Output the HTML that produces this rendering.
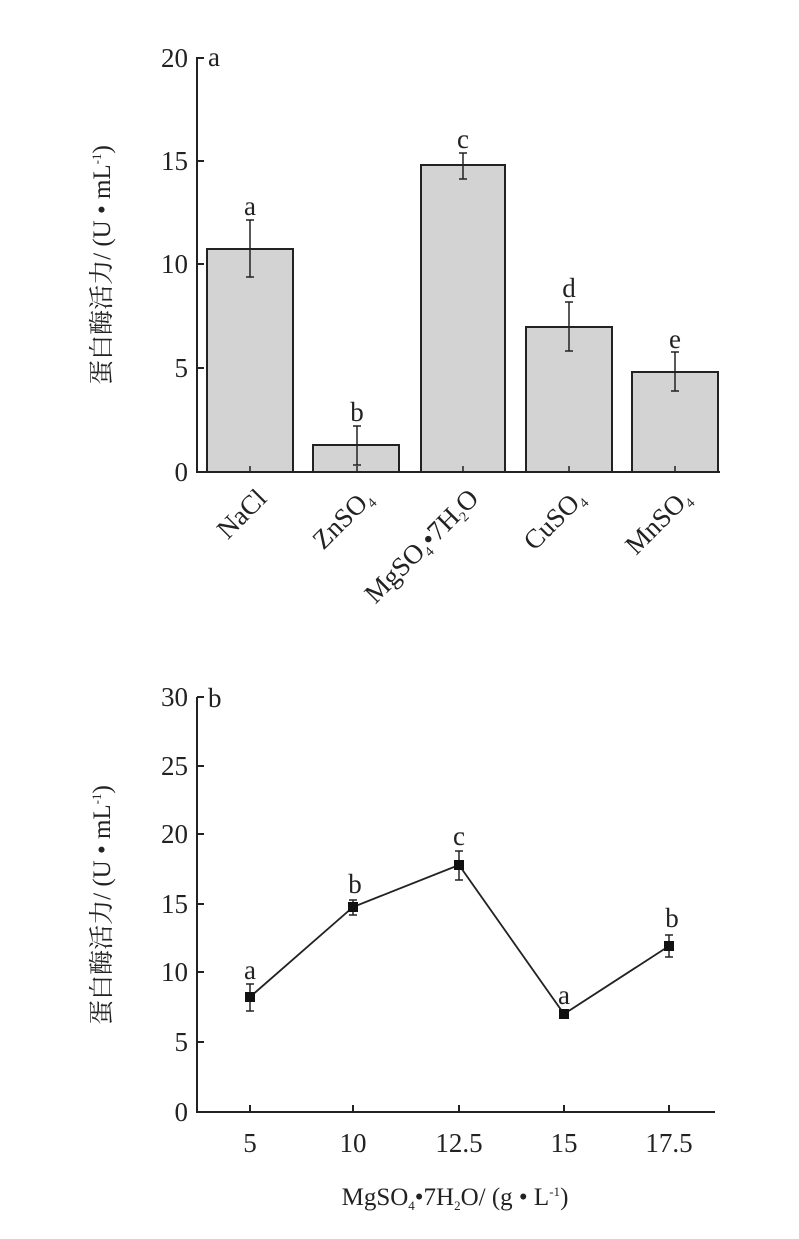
<!DOCTYPE html>
<html><head><meta charset="utf-8"><style>
html,body{margin:0;padding:0;background:#fff;}
svg{display:block;font-family:"Liberation Serif","Noto Serif CJK SC",serif;}
</style></head><body>
<svg width="799" height="1239" viewBox="0 0 799 1239" xmlns="http://www.w3.org/2000/svg">
<g stroke="#222" stroke-width="2" fill="none">
<line x1="197" y1="57" x2="197" y2="472"/>
<line x1="196" y1="472" x2="720" y2="472"/>
<line x1="197" y1="58" x2="204" y2="58"/>
<line x1="197" y1="161" x2="204" y2="161"/>
<line x1="197" y1="264" x2="204" y2="264"/>
<line x1="197" y1="368" x2="204" y2="368"/>
</g>
<g fill="#d3d3d3" stroke="#222" stroke-width="2">
<rect x="207" y="249" width="86" height="223"/>
<rect x="313" y="445" width="86" height="27"/>
<rect x="421" y="165" width="84" height="307"/>
<rect x="526" y="327" width="86" height="145"/>
<rect x="632" y="372" width="86" height="100"/>
</g>
<g stroke="#222" stroke-width="1.5">
<line x1="250" y1="220" x2="250" y2="277"/><line x1="246" y1="220" x2="254" y2="220"/><line x1="246" y1="277" x2="254" y2="277"/>
<line x1="357" y1="426" x2="357" y2="465"/><line x1="353" y1="426" x2="361" y2="426"/><line x1="353" y1="465" x2="361" y2="465"/>
<line x1="463" y1="153" x2="463" y2="179"/><line x1="459" y1="153" x2="467" y2="153"/><line x1="459" y1="179" x2="467" y2="179"/>
<line x1="569" y1="302" x2="569" y2="351"/><line x1="565" y1="302" x2="573" y2="302"/><line x1="565" y1="351" x2="573" y2="351"/>
<line x1="675" y1="352" x2="675" y2="391"/><line x1="671" y1="352" x2="679" y2="352"/><line x1="671" y1="391" x2="679" y2="391"/>
<line x1="250" y1="466" x2="250" y2="472"/><line x1="357" y1="466" x2="357" y2="472"/><line x1="463" y1="466" x2="463" y2="472"/><line x1="569" y1="466" x2="569" y2="472"/><line x1="675" y1="466" x2="675" y2="472"/>
</g>
<g font-size="27" fill="#222">
<text x="208" y="66">a</text>
<text x="188" y="67" text-anchor="end">20</text>
<text x="188" y="170" text-anchor="end">15</text>
<text x="188" y="273" text-anchor="end">10</text>
<text x="188" y="377" text-anchor="end">5</text>
<text x="188" y="481" text-anchor="end">0</text>
<text x="250" y="215" text-anchor="middle">a</text>
<text x="357" y="421" text-anchor="middle">b</text>
<text x="463" y="148" text-anchor="middle">c</text>
<text x="569" y="297" text-anchor="middle">d</text>
<text x="675" y="348" text-anchor="middle">e</text>
<text transform="translate(268,500) rotate(-45)" text-anchor="end">NaCl</text>
<text transform="translate(374,500) rotate(-45)" text-anchor="end">ZnSO<tspan font-size="14" dy="5">4</tspan></text>
<text transform="translate(480,500) rotate(-45)" text-anchor="end">MgSO<tspan font-size="14" dy="5">4</tspan><tspan dy="-5">•7H</tspan><tspan font-size="14" dy="5">2</tspan><tspan dy="-5">O</tspan></text>
<text transform="translate(586,500) rotate(-45)" text-anchor="end">CuSO<tspan font-size="14" dy="5">4</tspan></text>
<text transform="translate(692,500) rotate(-45)" text-anchor="end">MnSO<tspan font-size="14" dy="5">4</tspan></text>
<text transform="translate(110,265) rotate(-90)" text-anchor="middle" font-size="25">蛋白酶活力/ (U • mL<tspan font-size="13" dy="-9">-1</tspan><tspan dy="9">)</tspan></text>
</g>
<g stroke="#222" stroke-width="2" fill="none">
<line x1="197" y1="697" x2="197" y2="1112"/>
<line x1="196" y1="1112" x2="715" y2="1112"/>
<line x1="197" y1="697" x2="204" y2="697"/>
<line x1="197" y1="766" x2="204" y2="766"/>
<line x1="197" y1="834" x2="204" y2="834"/>
<line x1="197" y1="904" x2="204" y2="904"/>
<line x1="197" y1="972" x2="204" y2="972"/>
<line x1="197" y1="1042" x2="204" y2="1042"/>
<line x1="250" y1="1105" x2="250" y2="1112"/><line x1="353" y1="1105" x2="353" y2="1112"/><line x1="459" y1="1105" x2="459" y2="1112"/><line x1="564" y1="1105" x2="564" y2="1112"/><line x1="669" y1="1105" x2="669" y2="1112"/>
<polyline points="250,997 353,907 459,865 564,1014 669,946" stroke-width="1.8"/>
</g>
<g stroke="#222" stroke-width="1.5">
<line x1="250" y1="984" x2="250" y2="1011"/><line x1="246" y1="984" x2="254" y2="984"/><line x1="246" y1="1011" x2="254" y2="1011"/>
<line x1="353" y1="900" x2="353" y2="915"/><line x1="349" y1="900" x2="357" y2="900"/><line x1="349" y1="915" x2="357" y2="915"/>
<line x1="459" y1="851" x2="459" y2="880"/><line x1="455" y1="851" x2="463" y2="851"/><line x1="455" y1="880" x2="463" y2="880"/>
<line x1="564" y1="1010" x2="564" y2="1018"/>
<line x1="669" y1="935" x2="669" y2="957"/><line x1="665" y1="935" x2="673" y2="935"/><line x1="665" y1="957" x2="673" y2="957"/>
</g>
<g fill="#111">
<rect x="245" y="992" width="10" height="10"/>
<rect x="348" y="902" width="10" height="10"/>
<rect x="454" y="860" width="10" height="10"/>
<rect x="559" y="1009" width="10" height="10"/>
<rect x="664" y="941" width="10" height="10"/>
</g>
<g font-size="27" fill="#222">
<text x="208" y="707">b</text>
<text x="188" y="706" text-anchor="end">30</text>
<text x="188" y="775" text-anchor="end">25</text>
<text x="188" y="843" text-anchor="end">20</text>
<text x="188" y="913" text-anchor="end">15</text>
<text x="188" y="981" text-anchor="end">10</text>
<text x="188" y="1051" text-anchor="end">5</text>
<text x="188" y="1121" text-anchor="end">0</text>
<text x="250" y="979" text-anchor="middle">a</text>
<text x="355" y="893" text-anchor="middle">b</text>
<text x="459" y="845" text-anchor="middle">c</text>
<text x="564" y="1004" text-anchor="middle">a</text>
<text x="672" y="927" text-anchor="middle">b</text>
<text x="250" y="1152" text-anchor="middle">5</text>
<text x="353" y="1152" text-anchor="middle">10</text>
<text x="459" y="1152" text-anchor="middle">12.5</text>
<text x="564" y="1152" text-anchor="middle">15</text>
<text x="669" y="1152" text-anchor="middle">17.5</text>
<text x="455" y="1205" text-anchor="middle" font-size="25">MgSO<tspan font-size="13" dy="5">4</tspan><tspan dy="-5">•7H</tspan><tspan font-size="13" dy="5">2</tspan><tspan dy="-5">O/ (g • L</tspan><tspan font-size="13" dy="-9">-1</tspan><tspan dy="9">)</tspan></text>
<text transform="translate(110,905) rotate(-90)" text-anchor="middle" font-size="25">蛋白酶活力/ (U • mL<tspan font-size="13" dy="-9">-1</tspan><tspan dy="9">)</tspan></text>
</g>
</svg>
</body></html>
